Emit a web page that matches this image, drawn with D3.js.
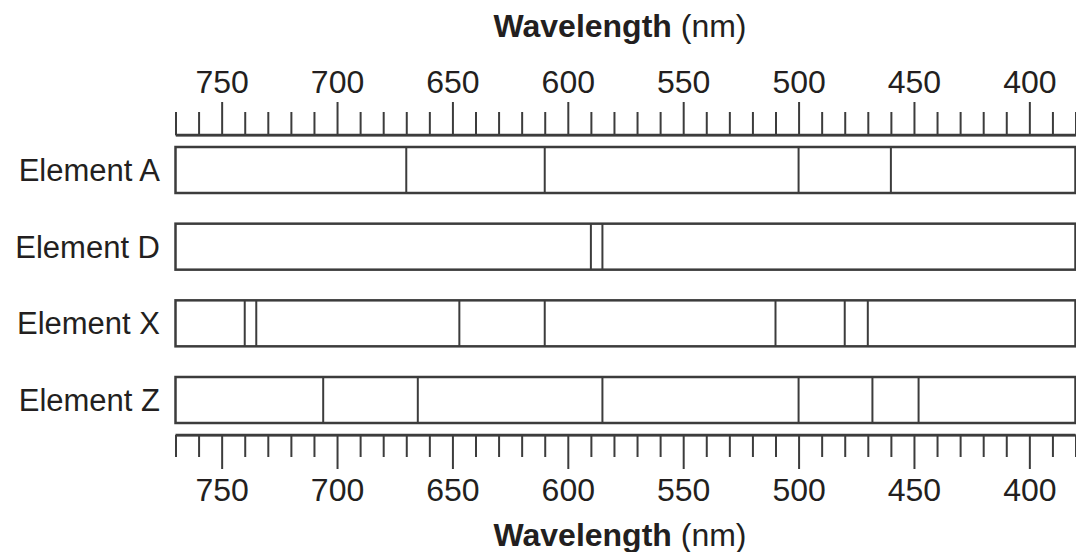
<!DOCTYPE html>
<html>
<head>
<meta charset="utf-8">
<script src="https://cdn.jsdelivr.net/npm/d3@7"></script>
<style>
  body { margin: 0; background: #fff; }
  svg { display: block; font-family: "Liberation Sans", Arial, sans-serif; }
  .axis path, .axis line { stroke: #3c3c3c; stroke-width: 2; }
  .axis text { font-size: 32px; fill: #231f20; }
</style>
</head>
<body>
<script>
const w = 1076;
const h = 552;

// wavelengths of the lines seen in each spectrum (nm)
const elements = ["Element A", "Element D", "Element X", "Element Z"];
const linesA = [670, 610, 500, 460];
const linesD = [590, 585];
const linesX = [740, 735, 647, 610, 510, 480, 470];
const linesZ = [706, 665, 585, 500, 468, 448];
const spectra = [linesA, linesD, linesX, linesZ];

const majorTicks = [750, 700, 650, 600, 550, 500, 450, 400];
const minorTicks = [770, 760, 740, 730, 720, 710, 690, 680, 670, 660, 640, 630, 620, 610,
                    590, 580, 570, 560, 540, 530, 520, 510, 490, 480, 470, 460, 440, 430,
                    420, 410, 390, 380];
const axisTitle = "Wavelength";
const axisUnit = " (nm)";

const svg = d3.select("body")
    .append("svg")
    .attr("width", w)
    .attr("height", h);

const xScale = d3.scaleLinear()
    .domain([770, 380])
    .range([175.5, 1075.5]);

const yScale = d3.scaleBand()
    .domain(elements)
    .range([147, 423])
    .paddingInner(0.4)
    .paddingOuter(0);

const topY = 135;
const bottomY = 435;

function drawAxis(axisFn, y, dir) {
    // minor ticks, no labels
    svg.append("g")
        .attr("class", "axis")
        .attr("transform", "translate(0," + y + ")")
        .call(axisFn(xScale).tickValues(minorTicks).tickSize(dir === "top" ? 23 : 22)
            .tickSizeOuter(0).tickFormat(""));
    // major ticks with labels
    const g = svg.append("g")
        .attr("class", "axis")
        .attr("transform", "translate(0," + y + ")")
        .call(axisFn(xScale).tickValues(majorTicks).tickSize(dir === "top" ? 33 : 34)
            .tickSizeOuter(0).tickPadding(dir === "top" ? 9 : 9));
    g.selectAll(".domain").remove();
    svg.append("line")
        .attr("x1", xScale(770)).attr("x2", xScale(380))
        .attr("y1", y).attr("y2", y)
        .attr("stroke", "#3c3c3c")
        .attr("stroke-width", 2.5);
}

drawAxis(d3.axisTop, topY, "top");
drawAxis(d3.axisBottom, bottomY, "bottom");

// axis titles
function title(y) {
    const t = svg.append("text")
        .attr("x", 620)
        .attr("y", y)
        .attr("text-anchor", "middle")
        .attr("font-size", 32)
        .attr("fill", "#231f20");
    t.append("tspan").attr("font-weight", "bold").text(axisTitle);
    t.append("tspan").text(axisUnit);
}
title(37);
title(546);

// spectrum boxes
const rows = svg.selectAll(".row")
    .data(elements)
    .join("g")
    .attr("class", "row");

rows.append("rect")
    .attr("x", xScale(770))
    .attr("y", d => yScale(d))
    .attr("width", xScale(380) - xScale(770))
    .attr("height", yScale.bandwidth())
    .attr("fill", "#fff")
    .attr("stroke", "#3c3c3c")
    .attr("stroke-width", 2.5);

rows.append("text")
    .attr("x", 160)
    .attr("y", d => yScale(d) + yScale.bandwidth() / 2)
    .attr("dy", "0.35em")
    .attr("text-anchor", "end")
    .attr("font-size", 31)
    .attr("fill", "#231f20")
    .text(d => d);

rows.each(function(d, i) {
    d3.select(this).selectAll(".ln")
        .data(spectra[i])
        .join("line")
        .attr("class", "ln")
        .attr("x1", v => xScale(v))
        .attr("x2", v => xScale(v))
        .attr("y1", yScale(d))
        .attr("y2", yScale(d) + yScale.bandwidth())
        .attr("stroke", "#3c3c3c")
        .attr("stroke-width", 2);
});
</script>
</body>
</html>
